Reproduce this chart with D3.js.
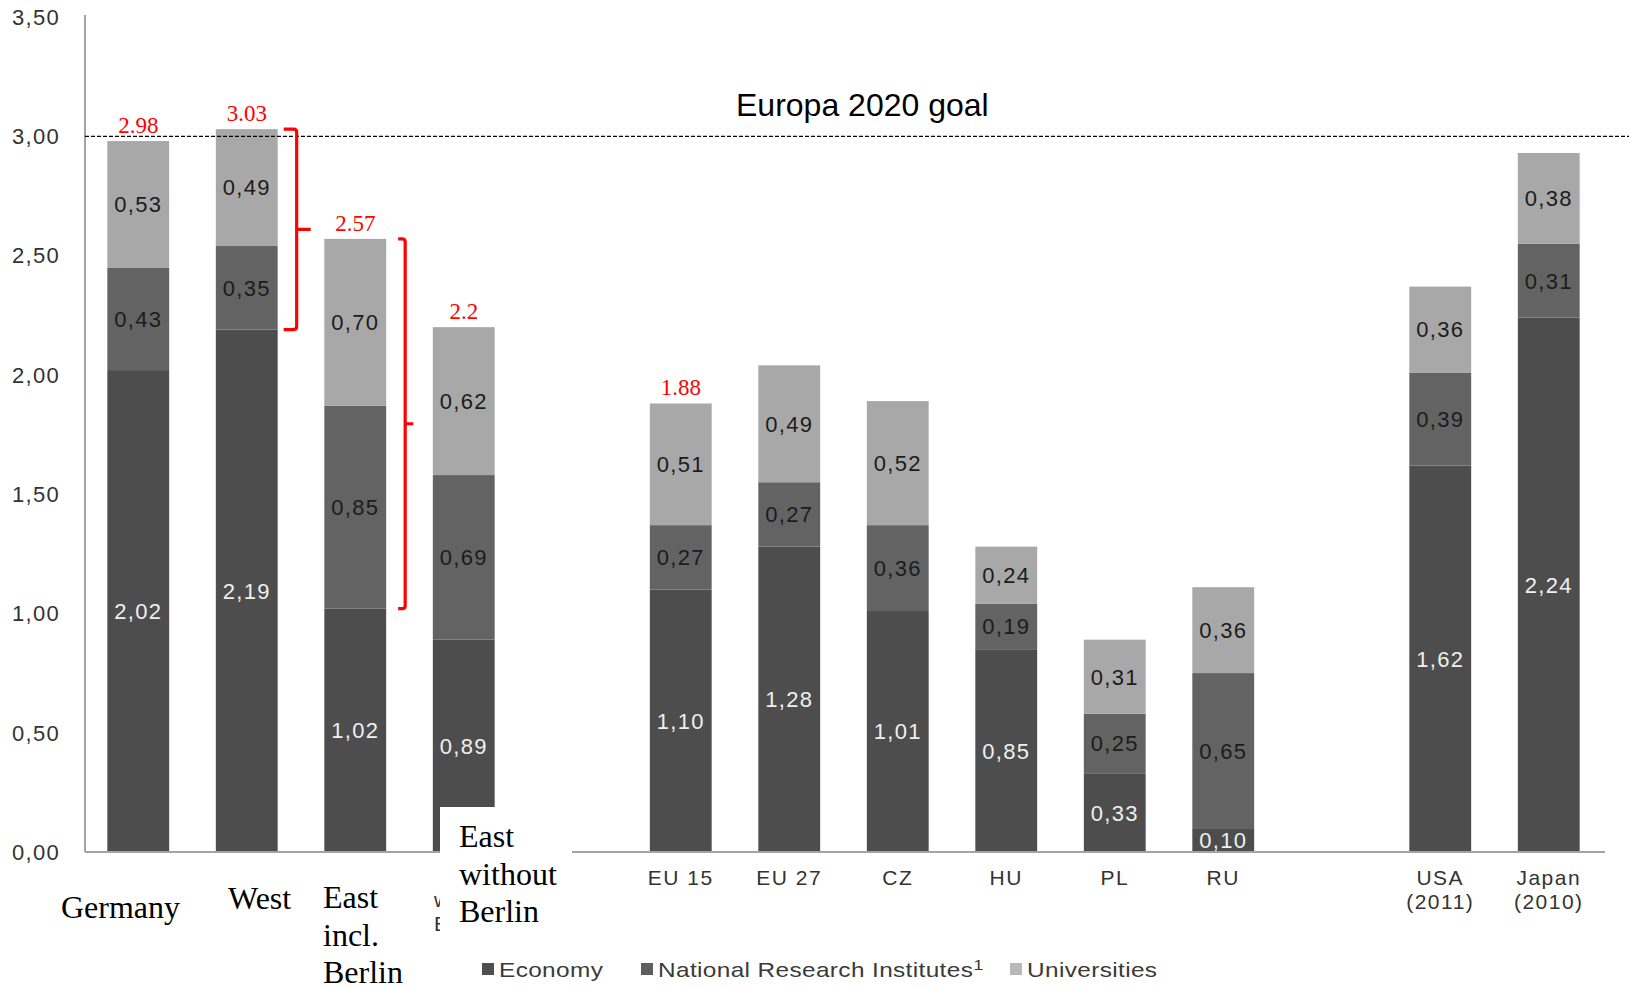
<!DOCTYPE html>
<html>
<head>
<meta charset="utf-8">
<script src="https://cdn.jsdelivr.net/npm/d3@7"></script>
<style>
  html, body { margin: 0; padding: 0; background: #fff; }
  svg { display: block; }
  .sans { font-family: "Liberation Sans", Arial, sans-serif; }
  .serif { font-family: "Liberation Serif", "Times New Roman", serif; }
</style>
</head>
<body>
<svg id="chart" width="1629" height="988"></svg>
<script>
// R&D expenditure as share of GDP, split by sector
const slots = ["Germany", "West", "East incl. Berlin", "East w/o Berlin", "gap1",
  "EU 15", "EU 27", "CZ", "HU", "PL", "RU", "gap2", "USA (2011)", "Japan (2010)"];
const categories = ["Germany", "West", "East incl. Berlin", "East w/o Berlin",
  "EU 15", "EU 27", "CZ", "HU", "PL", "RU", "USA (2011)", "Japan (2010)"];
const economy      = [2.02, 2.19, 1.02, 0.89, 1.10, 1.28, 1.01, 0.85, 0.33, 0.10, 1.62, 2.24];
const institutes   = [0.43, 0.35, 0.85, 0.69, 0.27, 0.27, 0.36, 0.19, 0.25, 0.65, 0.39, 0.31];
const universities = [0.53, 0.49, 0.70, 0.62, 0.51, 0.49, 0.52, 0.24, 0.31, 0.36, 0.36, 0.38];
const seriesNames = ["Economy", "National Research Institutes", "Universities"];
const totals = [
  { cat: "Germany", label: "2.98", value: 2.98 },
  { cat: "West", label: "3.03", value: 3.03 },
  { cat: "East incl. Berlin", label: "2.57", value: 2.57 },
  { cat: "East w/o Berlin", label: "2.2", value: 2.2 },
  { cat: "EU 15", label: "1.88", value: 1.88 }
];
const yTicks = [0, 0.5, 1, 1.5, 2, 2.5, 3, 3.5];
const goalValue = 3.0;
const goalLabel = "Europa 2020 goal";
const axisLabels = {
  "EU 15": ["EU 15"], "EU 27": ["EU 27"], "CZ": ["CZ"], "HU": ["HU"],
  "PL": ["PL"], "RU": ["RU"], "USA (2011)": ["USA", "(2011)"],
  "Japan (2010)": ["Japan", "(2010)"]
};

const colors = ["#4d4d4d", "#636363", "#a8a8a8"];
const legendColors = ["#4f4f4f", "#5e5e5e", "#b9b9b9"];

const svg = d3.select("#chart");
const x = d3.scaleBand().domain(slots).range([84, 1603]).paddingInner(0.43).paddingOuter(0.215);
const y = d3.scaleLinear().domain([0, 3.5]).range([852, 17]);
const fmt = v => v.toFixed(2).replace(".", ",");

const rows = categories.map((c, i) => ({
  cat: c, Economy: economy[i], "National Research Institutes": institutes[i], Universities: universities[i]
}));
const stacked = d3.stack().keys(seriesNames)(rows);

// stacked bars
const layers = svg.append("g").selectAll("g").data(stacked).join("g")
  .attr("fill", (d, i) => colors[i]);
layers.selectAll("rect").data(d => d).join("rect")
  .attr("x", d => x(d.data.cat))
  .attr("width", x.bandwidth())
  .attr("y", d => y(d[1]))
  .attr("height", d => y(d[0]) - y(d[1]));

// segment value labels
layers.each(function (layer, li) {
  d3.select(this).selectAll("text").data(layer).join("text")
    .attr("class", "sans")
    .attr("x", d => x(d.data.cat) + x.bandwidth() / 2)
    .attr("y", d => (y(d[0]) + y(d[1])) / 2)
    .attr("dy", "0.36em")
    .attr("text-anchor", "middle")
    .attr("font-size", 22)
    .attr("letter-spacing", 1.3)
    .attr("fill", li === 0 ? "#f0f0f0" : "#1c1c1c")
    .text(d => fmt(d[1] - d[0]));
});

// axes lines
svg.append("line").attr("x1", 85).attr("x2", 85).attr("y1", 15).attr("y2", y(0))
  .attr("stroke", "#a3a3a3").attr("stroke-width", 2);
svg.append("line").attr("x1", 85).attr("x2", 1605).attr("y1", y(0)).attr("y2", y(0))
  .attr("stroke", "#a3a3a3").attr("stroke-width", 2);

// y tick labels
svg.append("g").selectAll("text").data(yTicks).join("text")
  .attr("class", "sans")
  .attr("x", 60).attr("y", d => y(d)).attr("dy", "0.36em")
  .attr("text-anchor", "end").attr("font-size", 22).attr("letter-spacing", 1.3)
  .attr("fill", "#333").text(fmt);

// goal line
svg.append("line").attr("x1", 85).attr("x2", 1629).attr("y1", y(goalValue)).attr("y2", y(goalValue))
  .attr("stroke", "#000").attr("stroke-width", 1.2).attr("stroke-dasharray", "4,2");
svg.append("text").attr("class", "sans").attr("x", 736).attr("y", y(goalValue) - 20)
  .attr("font-size", 32).attr("fill", "#000").text(goalLabel);

// category labels under the axis
const catG = svg.append("g");
Object.entries(axisLabels).forEach(([cat, lines]) => {
  const t = catG.append("text").attr("class", "sans")
    .attr("x", x(cat) + x.bandwidth() / 2).attr("y", 885)
    .attr("text-anchor", "middle").attr("font-size", 21).attr("letter-spacing", 1.5)
    .attr("fill", "#333");
  lines.forEach((l, i) => t.append("tspan").attr("x", x(cat) + x.bandwidth() / 2)
    .attr("dy", i === 0 ? 0 : 24).text(l));
});

// red totals above bars
svg.append("g").selectAll("text").data(totals).join("text")
  .attr("class", "serif")
  .attr("x", d => x(d.cat) + x.bandwidth() / 2)
  .attr("y", d => y(d.value) - 8)
  .attr("text-anchor", "middle").attr("font-size", 23).attr("fill", "#ff0000")
  .text(d => d.label);

// braces marking the gap to the goal
function brace(cat, top, bottom, offset, tick, nose) {
  const vx = x(cat) + x.bandwidth() + offset;
  const y0 = y(top), y1 = y(bottom), ym = (y0 + y1) / 2;
  const r = 3;
  const p = d3.path();
  p.moveTo(vx - tick, y0);
  p.lineTo(vx - r, y0);
  p.quadraticCurveTo(vx, y0, vx, y0 + r);
  p.lineTo(vx, y1 - r);
  p.quadraticCurveTo(vx, y1, vx - r, y1);
  p.lineTo(vx - tick, y1);
  p.moveTo(vx, ym);
  p.lineTo(vx + nose, ym);
  svg.append("path").attr("d", p.toString()).attr("fill", "none")
    .attr("stroke", "#ff0000").attr("stroke-width", 3.2);
}
brace("West", 3.03, 2.19, 19, 13, 14);
brace("East incl. Berlin", 2.57, 1.02, 19, 7, 8);

// original axis label of the last German bar, mostly hidden by the serif label panel
svg.append("clipPath").attr("id", "leftOfPanel")
  .append("rect").attr("x", 400).attr("y", 860).attr("width", 40).attr("height", 80);
const hidden = svg.append("g").attr("clip-path", "url(#leftOfPanel)")
  .append("text").attr("class", "sans").attr("font-size", 21).attr("letter-spacing", 1.5)
  .attr("fill", "#333").attr("x", 434).attr("y", 907);
hidden.append("tspan").attr("x", 434).text("w");
hidden.append("tspan").attr("x", 434).attr("dy", 24).text("B");

// overlay labels for the German regions
svg.append("rect").attr("x", 440).attr("y", 807).attr("width", 132).attr("height", 135).attr("fill", "#fff");
const serifLabels = [
  { lines: ["Germany"], x: 61, y: 918 },
  { lines: ["West"], x: 228, y: 909 },
  { lines: ["East", "incl.", "Berlin"], x: 323, y: 908 },
  { lines: ["East", "without", "Berlin"], x: 459, y: 847 }
];
serifLabels.forEach(s => {
  const t = svg.append("text").attr("class", "serif").attr("font-size", 32).attr("fill", "#000");
  s.lines.forEach((l, i) => t.append("tspan").attr("x", s.x).attr("y", s.y + i * 37.5).text(l));
});

// legend
const legendX = [482, 641, 1010];
const lg = svg.append("g");
seriesNames.forEach((name, i) => {
  lg.append("rect").attr("x", legendX[i]).attr("y", 963).attr("width", 12).attr("height", 12)
    .attr("fill", legendColors[i]);
  const t = lg.append("text").attr("class", "sans")
    .attr("transform", `translate(${legendX[i] + 17},977) scale(1.22,1)`)
    .attr("font-size", 20).attr("letter-spacing", 0.3).attr("fill", "#3a3a3a").text(name);
  if (i === 1) t.append("tspan").attr("font-size", 15).attr("dy", -7).attr("letter-spacing", 0).text("1");
});
</script>
</body>
</html>
